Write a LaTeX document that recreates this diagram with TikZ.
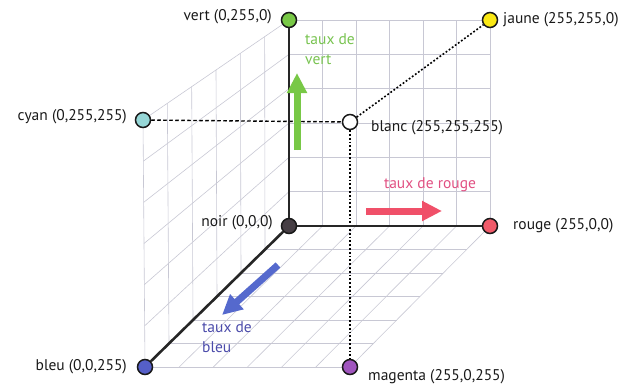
\documentclass[tikz,border=0pt]{standalone}
\usepackage{fontspec}
\setmainfont{PT Sans}
\usetikzlibrary{calc,arrows.meta}
\definecolor{cvert}{RGB}{120,200,70}
\definecolor{cjaune}{RGB}{250,232,20}
\definecolor{ccyan}{RGB}{150,215,215}
\definecolor{cnoir}{RGB}{70,62,68}
\definecolor{crouge}{RGB}{240,90,105}
\definecolor{cbleu}{RGB}{85,95,200}
\definecolor{cmagenta}{RGB}{160,85,190}
\definecolor{tvert}{RGB}{120,195,80}
\definecolor{trouge}{RGB}{225,80,130}
\definecolor{tbleu}{RGB}{75,75,170}
\definecolor{agreen}{RGB}{120,200,70}
\definecolor{ared}{RGB}{240,80,105}
\definecolor{ablue}{RGB}{85,105,205}
\definecolor{gridc}{RGB}{200,200,212}
\begin{document}
\begin{tikzpicture}[x=1pt,y=1pt,
  gridline/.style={draw=gridc,line width=0.6pt},
  axis/.style={draw=black!85,line width=2.6pt},
  dashline/.style={draw=black,line width=1.4pt,dash pattern=on 3.5pt off 2.5pt},
  dotline/.style={draw=black,line width=1.6pt,dash pattern=on 1.8pt off 2pt},
  pt/.style={circle,draw=black!90,line width=1.5pt,minimum size=15pt,inner sep=0pt},
  lbl/.style={font=\fontsize{15.5}{18}\selectfont,text=black!90,inner sep=0pt},
  tlbl/.style={font=\fontsize{15.5}{20}\selectfont,inner sep=0pt,align=left},
  bigarrow/.style={line width=7pt,-{Triangle[width=19pt,length=20pt]}}
]
\useasboundingbox (0,0) rectangle (628,384);
\coordinate (cN) at (289,158);
\coordinate (cV) at (289,364);
\coordinate (cR) at (490,158);
\coordinate (cJ) at (490,364);
\coordinate (cC) at (143,264);
\coordinate (cB) at (145,17);
\coordinate (cM) at (350,17);
\coordinate (cW) at (350,262);
% grid
\foreach \k in {0,...,6}{
  \pgfmathsetmacro\t{\k/6}
  % back wall
  \draw[gridline] ($(cN)!\t!(cV)$) -- ($(cR)!\t!(cJ)$);
  \draw[gridline] ($(cN)!\t!(cR)$) -- ($(cV)!\t!(cJ)$);
  % left wall
  \draw[gridline] ($(cN)!\t!(cV)$) -- ($(cB)!\t!(cC)$);
  \draw[gridline] ($(cV)!\t!(cC)$) -- ($(cN)!\t!(cB)$);
  % floor
  \draw[gridline] ($(cN)!\t!(cR)$) -- ($(cB)!\t!(cM)$);
  \draw[gridline] ($(cN)!\t!(cB)$) -- ($(cR)!\t!(cM)$);
}
% points
\node[pt,fill=cvert] (vert) at (cV) {};
\node[pt,fill=cjaune] (jaune) at (cJ) {};
\node[pt,fill=ccyan] (cyan) at (cC) {};
\node[pt,fill=white] (blanc) at (cW) {};
\node[pt,fill=cnoir] (noir) at (cN) {};
\node[pt,fill=crouge] (rouge) at (cR) {};
\node[pt,fill=cbleu] (bleu) at (cB) {};
\node[pt,fill=cmagenta] (magenta) at (cM) {};
% connectors
\draw[dashline] (cyan) -- (blanc);
\draw[dotline] (blanc) -- (jaune);
\draw[dotline] (blanc) -- (magenta);
\draw[axis] (noir) -- (vert);
\draw[axis] (noir) -- (rouge);
\draw[axis] (noir) -- (bleu);
% arrows
\coordinate (gA) at (297,234);
\coordinate (gB) at (297,311);
\coordinate (rA) at (366,173);
\coordinate (rB) at (442,173);
\coordinate (bA) at (278,119);
\coordinate (bB) at (222,69);
\draw[bigarrow,draw=agreen,fill=agreen] (gA) -- (gB);
\draw[bigarrow,draw=ared,fill=ared] (rA) -- (rB);
\draw[bigarrow,draw=ablue,fill=ablue] (bA) -- (bB);
% labels
\node[lbl,anchor=east] (lvert) at (272,367) {vert (0,255,0)};
\node[lbl,anchor=west] (ljaune) at (503,364) {jaune (255,255,0)};
\node[lbl,anchor=east] (lcyan) at (127,267) {cyan (0,255,255)};
\node[lbl,anchor=west] (lblanc) at (371,256) {blanc (255,255,255)};
\node[lbl,anchor=east] (lnoir) at (273,161) {noir (0,0,0)};
\node[lbl,anchor=west] (lrouge) at (513,158) {rouge (255,0,0)};
\node[lbl,anchor=east] (lbleu) at (127,17) {bleu (0,0,255)};
\node[lbl,anchor=west] (lmagenta) at (368,7) {magenta (255,0,255)};
\node[tlbl,text=tvert,anchor=north west] (tv) at (305,351) {taux de\\vert};
\node[tlbl,text=trouge,anchor=center] (tr) at (430,199) {taux de rouge};
\node[tlbl,text=tbleu,anchor=north west] (tb) at (202,63) {taux de\\bleu};
\end{tikzpicture}
\end{document}
